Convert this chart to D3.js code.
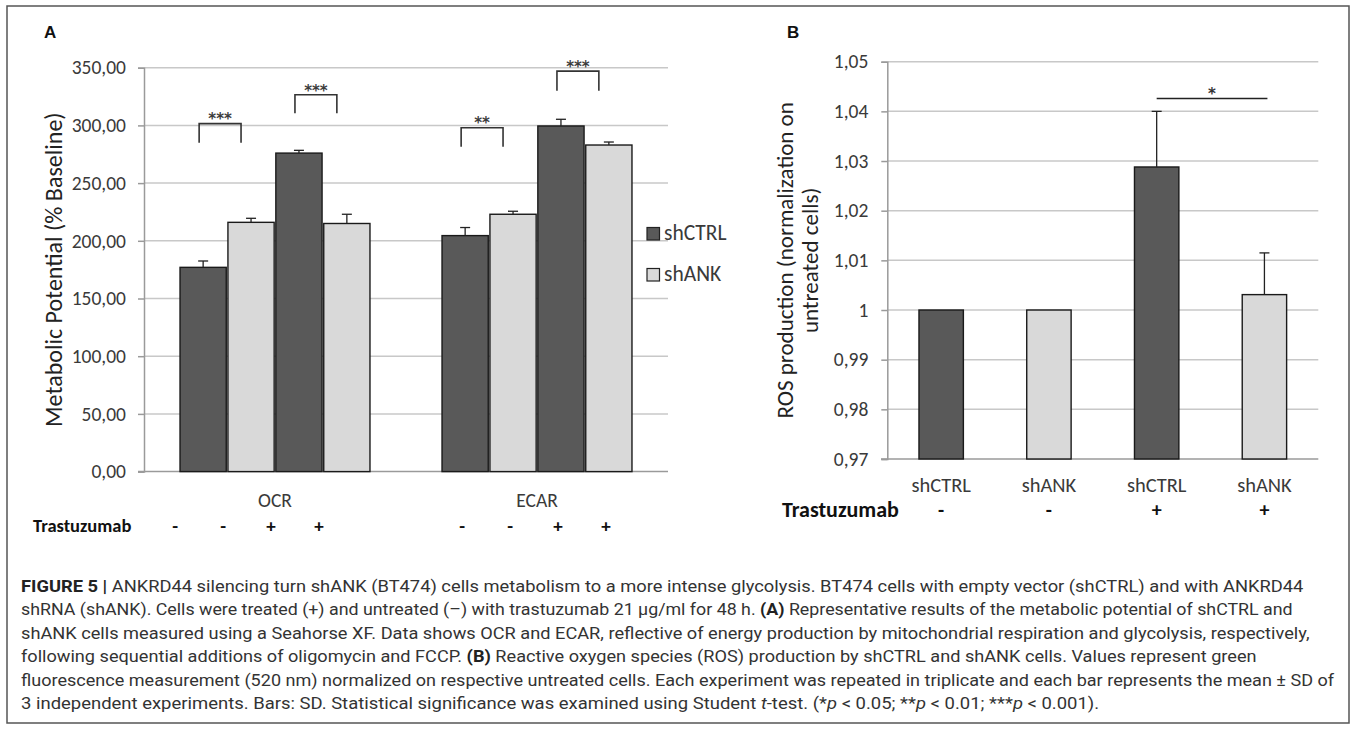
<!DOCTYPE html>
<html><head><meta charset="utf-8">
<script src="https://cdn.jsdelivr.net/npm/d3@7/dist/d3.min.js"></script>
<style>
html,body{margin:0;padding:0;background:#fff;}
svg{display:block;}
</style></head>
<body><svg id="c" width="1357" height="729"></svg>
<script>
// ---------- DATA ----------
const groupsA = ["OCR", "ECAR"];
const cellLinesA = ["shCTRL", "shANK", "shCTRL", "shANK"];
const treatmentA = ["-", "-", "+", "+"];
const ocrMeans = [177, 216, 276, 215];
const ocrSD = [5.5, 3.5, 2.4, 8];
const ecarMeans = [204.5, 223, 299.5, 283];
const ecarSD = [7, 2.6, 5.8, 2.6];
const yTicksA = [0, 50, 100, 150, 200, 250, 300, 350];
const legendLabels = ["shCTRL", "shANK"];
// significance brackets (panel A): group, bar i, bar j, label, top value, leg-end value
const sigA = [
  ["OCR", 0, 1, "***", 301.5, 285],
  ["OCR", 2, 3, "***", 326.5, 310.5],
  ["ECAR", 0, 1, "**", 298, 281.5],
  ["ECAR", 2, 3, "***", 347, 330]
];

const catsB = ["shCTRL", "shANK", "shCTRL ", "shANK "];
const treatmentB = ["-", "-", "+", "+"];
const rosMeans = [1, 1, 1.0288, 1.0031];
const rosSD = [0, 0, 0.0112, 0.0084];
const yTicksB = [0.97, 0.98, 0.99, 1, 1.01, 1.02, 1.03, 1.04, 1.05];
const sigB = [[2, 3, "*", 1.0426]];

const captionLines = [
  [["b","FIGURE 5 |"],["n"," ANKRD44 silencing turn shANK (BT474) cells metabolism to a more intense glycolysis. BT474 cells with empty vector (shCTRL) and with ANKRD44"]],
  [["n","shRNA (shANK). Cells were treated (+) and untreated (–) with trastuzumab 21 μg/ml for 48 h. "],["b","(A)"],["n"," Representative results of the metabolic potential of shCTRL and"]],
  [["n","shANK cells measured using a Seahorse XF. Data shows OCR and ECAR, reflective of energy production by mitochondrial respiration and glycolysis, respectively,"]],
  [["n","following sequential additions of oligomycin and FCCP. "],["b","(B)"],["n"," Reactive oxygen species (ROS) production by shCTRL and shANK cells. Values represent green"]],
  [["n","fluorescence measurement (520 nm) normalized on respective untreated cells. Each experiment was repeated in triplicate and each bar represents the mean ± SD of"]],
  [["n","3 independent experiments. Bars: SD. Statistical significance was examined using Student "],["i","t"],["n","-test. (*"],["i","p"],["n"," < 0.05; **"],["i","p"],["n"," < 0.01; ***"],["i","p"],["n"," < 0.001)."]]
];
const captionEnds = [1304, 1294, 1311, 1258, 1335, 1100];

// ---------- STYLE ----------
const DARK = "#595959", LIGHT = "#d9d9d9", GRID = "#c8c8c8", AXIS = "#9a9a9a";
const FONT = "Carlito, Lato, sans-serif";
const STARFONT = "'DejaVu Sans', sans-serif";
const TXT = "#3a3a3a";
const signOffsetA = { OCR: -28, ECAR: -3 };

const svg = d3.select("#c");
svg.append("rect").attr("width",1357).attr("height",729).attr("fill","#fff");
svg.append("rect").attr("x",7).attr("y",6).attr("width",1342).attr("height",717)
   .attr("fill","none").attr("stroke","#555").attr("stroke-width",1.5);

const fmt = d => d3.format(".2f")(d).replace(".", ",");
const fmtB = d => (d === 1 ? "1" : d3.format(".2f")(d).replace(".", ","));

// ---------- PANEL A ----------
const gA = svg.append("g");
const yA = d3.scaleLinear().domain([0, 350]).range([471.6, 67.7]);
const xG = d3.scaleBand().domain(groupsA).range([144, 668]).paddingInner(0.275).paddingOuter(0.1375);
const xI = d3.scaleBand().domain(d3.range(4)).range([0, xG.bandwidth()]).paddingInner(0.035);

gA.append("g").selectAll("line").data(yTicksA.filter(d=>d>0)).join("line")
  .attr("x1",144).attr("x2",668).attr("y1",d=>yA(d)).attr("y2",d=>yA(d))
  .attr("stroke",GRID).attr("stroke-width",1.5);

const axA = gA.append("g").attr("transform","translate(144,0)")
  .call(d3.axisLeft(yA).tickValues(yTicksA).tickFormat(fmt).tickSize(6).tickPadding(12));
axA.select(".domain").attr("stroke",AXIS).attr("stroke-width",1.5);
axA.selectAll(".tick line").attr("stroke",AXIS).attr("stroke-width",1.5);
axA.selectAll(".tick text").attr("font-family",FONT).attr("font-size",19.5).attr("fill",TXT);
gA.append("line").attr("x1",138).attr("x2",668).attr("y1",yA(0)).attr("y2",yA(0))
  .attr("stroke",AXIS).attr("stroke-width",1.5);

const dataA = [ {g:"OCR", m:ocrMeans, s:ocrSD}, {g:"ECAR", m:ecarMeans, s:ecarSD} ];
dataA.forEach(D => {
  const gx = xG(D.g);
  D.m.forEach((v,i) => {
    const x = gx + xI(i), w = xI.bandwidth(), cx = x + w/2;
    gA.append("rect").attr("x",x).attr("y",yA(v)).attr("width",w).attr("height",yA(0)-yA(v))
      .attr("fill", i%2===0 ? DARK : LIGHT).attr("stroke","#1a1a1a").attr("stroke-width",1.4);
    const yt = yA(v + D.s[i]);
    gA.append("line").attr("x1",cx).attr("x2",cx).attr("y1",yA(v)).attr("y2",yt).attr("stroke","#222").attr("stroke-width",1.3);
    gA.append("line").attr("x1",cx-5).attr("x2",cx+5).attr("y1",yt).attr("y2",yt).attr("stroke","#222").attr("stroke-width",1.3);
    gA.append("text").attr("x",cx + signOffsetA[D.g]).attr("y",532).attr("text-anchor","middle")
      .attr("font-family",FONT).attr("font-weight",700).attr("font-size",19).attr("fill","#111").text(treatmentA[i]);
  });
  gA.append("text").attr("x",gx + xG.bandwidth()/2).attr("y",507).attr("text-anchor","middle")
    .attr("font-family",FONT).attr("font-size",19.5).attr("fill",TXT).text(D.g);
});

sigA.forEach(([g,i,j,lab,top,leg]) => {
  const c1 = xG(g)+xI(i)+xI.bandwidth()/2 - 4;
  const c2 = xG(g)+xI(j)+xI.bandwidth()/2 - 10;
  gA.append("path").attr("d",`M${c1},${yA(leg)}V${yA(top)}H${c2}V${yA(leg)}`)
    .attr("fill","none").attr("stroke","#333").attr("stroke-width",1.6);
  gA.append("text").attr("x",(c1+c2)/2).attr("y",yA(top)+0.7).attr("text-anchor","middle")
    .attr("font-family",STARFONT).attr("font-weight",700).attr("font-size",15).attr("fill","#3c3c3c").text(lab);
});

gA.append("text").attr("x",44).attr("y",38).attr("font-family","Liberation Sans, Arial, sans-serif")
  .attr("font-weight",700).attr("font-size",17).attr("fill","#111").text("A");
gA.append("text").attr("transform",`translate(62,${(yA(0)+yA(350))/2}) rotate(-90)`)
  .attr("text-anchor","middle").attr("font-family",FONT).attr("font-size",24).attr("fill","#222")
  .text("Metabolic Potential (% Baseline)");
gA.append("text").attr("x",33).attr("y",532).attr("font-family",FONT).attr("font-weight",700)
  .attr("font-size",18.5).attr("fill","#111").text("Trastuzumab");

// legend
legendLabels.forEach((l,k) => {
  const y0 = 227.5 + k*41;
  gA.append("rect").attr("x",647).attr("y",y0).attr("width",12.5).attr("height",12.5)
    .attr("fill", k===0 ? DARK : LIGHT).attr("stroke","#222").attr("stroke-width",1.2);
  gA.append("text").attr("x",664).attr("y",y0+12.8).attr("font-family",FONT).attr("font-size",21.5)
    .attr("fill",TXT).text(l);
});

// ---------- PANEL B ----------
const gB = svg.append("g");
const yB = d3.scaleLinear().domain([0.97, 1.05]).range([459, 61.7]);
const xB = d3.scaleBand().domain(catsB).range([887.3, 1318.3]).paddingInner(0.588).paddingOuter(0.294);

gB.append("g").selectAll("line").data(yTicksB.filter(d=>d>0.97)).join("line")
  .attr("x1",887.3).attr("x2",1318.3).attr("y1",d=>yB(d)).attr("y2",d=>yB(d))
  .attr("stroke",GRID).attr("stroke-width",1.5);
const axB = gB.append("g").attr("transform","translate(887.3,0)")
  .call(d3.axisLeft(yB).tickValues(yTicksB).tickFormat(fmtB).tickSize(6).tickPadding(13));
axB.select(".domain").attr("stroke",AXIS).attr("stroke-width",1.5);
axB.selectAll(".tick line").attr("stroke",AXIS).attr("stroke-width",1.5);
axB.selectAll(".tick text").attr("font-family",FONT).attr("font-size",19.5).attr("fill",TXT);
gB.append("line").attr("x1",881).attr("x2",1318.3).attr("y1",yB(0.97)).attr("y2",yB(0.97))
  .attr("stroke",AXIS).attr("stroke-width",1.5);

catsB.forEach((c,i) => {
  const x = xB(c), w = xB.bandwidth(), cx = x + w/2, v = rosMeans[i];
  gB.append("rect").attr("x",x).attr("y",yB(v)).attr("width",w).attr("height",yB(0.97)-yB(v))
    .attr("fill", i%2===0 ? DARK : LIGHT).attr("stroke","#1a1a1a").attr("stroke-width",1.4);
  if (rosSD[i] > 0) {
    const yt = yB(v + rosSD[i]);
    gB.append("line").attr("x1",cx).attr("x2",cx).attr("y1",yB(v)).attr("y2",yt).attr("stroke","#222").attr("stroke-width",1.3);
    gB.append("line").attr("x1",cx-5).attr("x2",cx+5).attr("y1",yt).attr("y2",yt).attr("stroke","#222").attr("stroke-width",1.3);
  }
  gB.append("text").attr("x",cx).attr("y",492).attr("text-anchor","middle")
    .attr("font-family",FONT).attr("font-size",20.5).attr("fill",TXT).text(c.trim());
  gB.append("text").attr("x",cx).attr("y",517).attr("text-anchor","middle")
    .attr("font-family",FONT).attr("font-weight",700).attr("font-size",20).attr("fill","#111").text(treatmentB[i]);
});
sigB.forEach(([i,j,lab,val]) => {
  const c1 = xB(catsB[i]) + xB.bandwidth()/2, c2 = xB(catsB[j]) + xB.bandwidth()/2 + 3;
  gB.append("line").attr("x1",c1).attr("x2",c2).attr("y1",yB(val)).attr("y2",yB(val))
    .attr("stroke","#222").attr("stroke-width",1.5);
  gB.append("text").attr("x",(c1+c2)/2).attr("y",yB(val)+0.5).attr("text-anchor","middle")
    .attr("font-family",STARFONT).attr("font-weight",700).attr("font-size",15).attr("fill","#333").text(lab);
});

gB.append("text").attr("x",787).attr("y",38).attr("font-family","Liberation Sans, Arial, sans-serif")
  .attr("font-weight",700).attr("font-size",17).attr("fill","#111").text("B");
const cyB = (yB(0.97)+yB(1.05))/2;
gB.append("text").attr("transform",`translate(793,${cyB}) rotate(-90)`)
  .attr("text-anchor","middle").attr("font-family",FONT).attr("font-size",23).attr("fill","#222")
  .text("ROS production (normalization on");
gB.append("text").attr("transform",`translate(818,${cyB}) rotate(-90)`)
  .attr("text-anchor","middle").attr("font-family",FONT).attr("font-size",23).attr("fill","#222")
  .text("untreated cells)");
gB.append("text").attr("x",782).attr("y",517).attr("font-family",FONT).attr("font-weight",700)
  .attr("font-size",22).attr("fill","#111").text("Trastuzumab");

// ---------- CAPTION ----------
const capX = 21;
captionLines.forEach((segs, k) => {
  const g = svg.append("g");
  const t = g.append("text").attr("x",0).attr("y",0)
    .attr("font-family","'Liberation Sans Narrow', 'Roboto', sans-serif").attr("font-size",16.5).attr("fill","#333");
  segs.forEach(([s, str]) => {
    const ts = t.append("tspan").text(str);
    if (s === "b") ts.attr("font-weight",700).attr("fill","#222");
    if (s === "i") ts.attr("font-style","italic");
  });
  const w = t.node().getComputedTextLength();
  const sx = (captionEnds[k] - capX) / w;
  g.attr("transform",`translate(${capX},${592 + k*23.4}) scale(${sx},1)`);
});
</script></body></html>
